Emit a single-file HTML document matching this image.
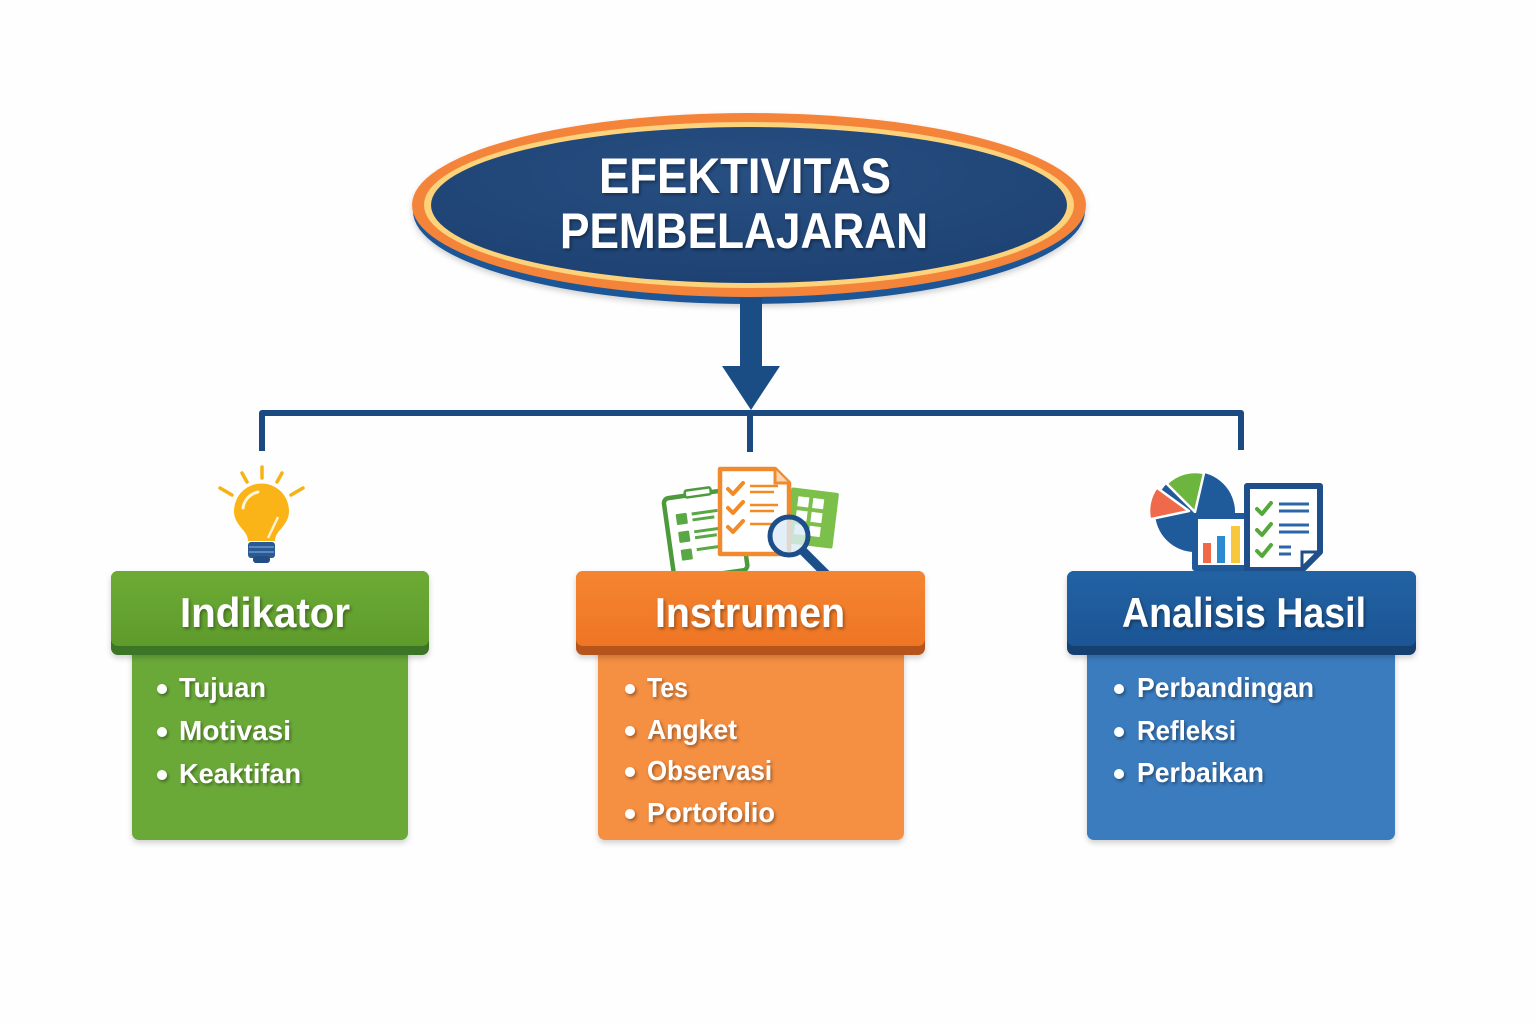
<!DOCTYPE html>
<html><head><meta charset="utf-8"><style>
html,body{margin:0;padding:0;background:#fefefe;}
svg{display:block;}
text{font-family:"Liberation Sans",Arial,sans-serif;font-weight:bold;fill:#fff;}
</style></head><body>
<svg width="1536" height="1024" viewBox="0 0 1536 1024" xmlns="http://www.w3.org/2000/svg">
<defs>
<filter id="ts" x="-10%" y="-30%" width="120%" height="160%"><feDropShadow dx="1.5" dy="2" stdDeviation="1.6" flood-color="#000" flood-opacity="0.38"/></filter>
<filter id="sh" x="-10%" y="-10%" width="120%" height="130%"><feDropShadow dx="0" dy="3" stdDeviation="3" flood-color="#000" flood-opacity="0.18"/></filter>
<radialGradient id="navy" cx="50%" cy="30%" r="70%"><stop offset="0" stop-color="#284f82"/><stop offset="1" stop-color="#1d4273"/></radialGradient>
<linearGradient id="gH" x1="0" y1="0" x2="0" y2="1"><stop offset="0" stop-color="#6dab35"/><stop offset="1" stop-color="#5e9b2c"/></linearGradient>
<linearGradient id="oH" x1="0" y1="0" x2="0" y2="1"><stop offset="0" stop-color="#f58530"/><stop offset="1" stop-color="#ee7524"/></linearGradient>
<linearGradient id="bH" x1="0" y1="0" x2="0" y2="1"><stop offset="0" stop-color="#2262a3"/><stop offset="1" stop-color="#1b5595"/></linearGradient>
</defs>

<!-- Central ellipse -->
<g filter="url(#sh)">
<ellipse cx="749" cy="211" rx="336" ry="93" fill="#1f5797"/>
<ellipse cx="749" cy="205" rx="337" ry="92" fill="#f5843a"/>
</g>
<ellipse cx="749" cy="205" rx="325" ry="83" fill="#fcd27a"/>
<ellipse cx="749" cy="205" rx="318" ry="78" fill="url(#navy)"/>
<text x="745" y="193" font-size="50" text-anchor="middle" textLength="292" lengthAdjust="spacingAndGlyphs" filter="url(#ts)">EFEKTIVITAS</text>
<text x="744" y="248" font-size="50" text-anchor="middle" textLength="368" lengthAdjust="spacingAndGlyphs" filter="url(#ts)">PEMBELAJARAN</text>

<!-- Arrow -->
<rect x="740" y="298" width="22" height="70" fill="#1a4d84"/>
<polygon points="722,366 780,366 751,410" fill="#1a4d84"/>

<!-- Connector lines -->
<path d="M262,451 L262,413 L1241,413 L1241,450" fill="none" stroke="#1b4a80" stroke-width="6" stroke-linejoin="round"/>
<line x1="750" y1="410" x2="750" y2="452" stroke="#1b4a80" stroke-width="6"/>

<!-- Lightbulb -->
<g stroke="#f5b316" stroke-width="3.5" stroke-linecap="round">
<line x1="262" y1="467" x2="262" y2="478"/>
<line x1="242" y1="473" x2="247" y2="482"/>
<line x1="282" y1="473" x2="277" y2="482"/>
<line x1="220" y1="488" x2="232" y2="495"/>
<line x1="303" y1="488" x2="291" y2="495"/>
</g>
<path d="M248,541 C248,530 234,526 234,511 A27.5,27.5 0 1 1 289,511 C289,526 275,530 275,541 Z" fill="#fbb417"/>
<path d="M243,508 A19,19 0 0 1 258,492" fill="none" stroke="#fff" stroke-width="3" stroke-linecap="round" opacity="0.85"/>
<line x1="278" y1="517" x2="268" y2="538" stroke="#fff" stroke-width="2.5" opacity="0.8"/>
<rect x="248" y="542" width="27" height="16" rx="3" fill="#2a5a96"/>
<line x1="249" y1="547" x2="274" y2="547" stroke="#6e96c6" stroke-width="1.5"/>
<line x1="249" y1="552" x2="274" y2="552" stroke="#6e96c6" stroke-width="1.5"/>
<rect x="253" y="556" width="17" height="7" rx="3" fill="#234e85"/>

<!-- Instrumen icon -->
<g transform="rotate(7 812 517)">
<rect x="788" y="490" width="48" height="56" rx="2" fill="#7cc04b"/>
<g fill="#fff"><rect x="796" y="498" width="11" height="10"/><rect x="811" y="498" width="11" height="10"/><rect x="796" y="512" width="11" height="10"/><rect x="811" y="512" width="11" height="10"/><rect x="796" y="526" width="11" height="10"/><rect x="811" y="526" width="11" height="10"/></g>
</g>
<g transform="rotate(-8 700 530)">
<rect x="668" y="494" width="74" height="82" rx="5" fill="#fff" stroke="#4c9a3c" stroke-width="4.5"/>
<rect x="690" y="489" width="26" height="7" rx="2" fill="#fff" stroke="#4c9a3c" stroke-width="2.5"/>
<g fill="#5aa845"><rect x="678" y="511" width="11" height="11" rx="1"/><rect x="678" y="529" width="11" height="11" rx="1"/><rect x="678" y="547" width="11" height="11" rx="1"/></g>
<g stroke="#5aa845" stroke-width="3"><line x1="694" y1="513" x2="720" y2="513"/><line x1="694" y1="519" x2="716" y2="519"/><line x1="694" y1="531" x2="720" y2="531"/><line x1="694" y1="537" x2="716" y2="537"/><line x1="694" y1="549" x2="720" y2="549"/></g>
</g>
<path d="M720,469 L775,469 L789,483 L789,554 L720,554 Z" fill="#fff" stroke="#f08a2f" stroke-width="4.5" stroke-linejoin="round"/>
<path d="M775,469 L775,483 L789,483" fill="#fbd4b0" stroke="#f08a2f" stroke-width="3"/>
<g fill="none" stroke="#f28a26" stroke-width="4" stroke-linecap="round" stroke-linejoin="round">
<polyline points="728,489 733,494 743,483"/><polyline points="728,508 733,513 743,502"/><polyline points="728,527 733,532 743,521"/>
</g>
<g stroke="#f28a26" stroke-width="2.5"><line x1="750" y1="486" x2="778" y2="486"/><line x1="750" y1="492" x2="774" y2="492"/><line x1="750" y1="505" x2="778" y2="505"/><line x1="750" y1="511" x2="774" y2="511"/><line x1="750" y1="524" x2="772" y2="524"/></g>
<line x1="803" y1="551" x2="826" y2="574" stroke="#1c4f8a" stroke-width="9" stroke-linecap="round"/>
<circle cx="789" cy="536" r="19" fill="#dcebf6" fill-opacity="0.8" stroke="#1c4f8a" stroke-width="5"/>

<!-- Analisis icon -->
<circle cx="1195" cy="512" r="40" fill="#1f5a9a"/>
<path d="M1195,512 L1166.7,483.7 A40,40 0 0 1 1204,473 Z" fill="#6cb53f" stroke="#fff" stroke-width="2.5" stroke-linejoin="round"/>
<path d="M1189,511 L1149.9,519.3 A40,40 0 0 1 1156.6,487.5 Z" fill="#ee6a4a" stroke="#fff" stroke-width="2.5" stroke-linejoin="round"/>
<rect x="1192" y="513" width="58" height="58" rx="3" fill="#1f5a9a"/>
<rect x="1198" y="519" width="46" height="46" fill="#fff"/>
<rect x="1203" y="543" width="8" height="20" fill="#f06a4a"/>
<rect x="1217" y="536" width="8" height="27" fill="#2b8ad0"/>
<rect x="1231" y="526" width="9" height="37" fill="#f7c83c"/>
<rect x="1186" y="573" width="100" height="7" rx="3" fill="#9db7d4"/>
<path d="M1247,486 L1320,486 L1320,552 L1302,570 L1247,570 Z" fill="#fff" stroke="#1f4f8a" stroke-width="6" stroke-linejoin="round"/>
<path d="M1320,552 L1302,552 L1302,570" fill="none" stroke="#1f4f8a" stroke-width="3"/>
<g fill="none" stroke="#55a83a" stroke-width="4" stroke-linecap="round" stroke-linejoin="round">
<polyline points="1257,509 1262,514 1271,503"/><polyline points="1257,530 1262,535 1271,524"/><polyline points="1257,551 1262,556 1271,545"/>
</g>
<g stroke="#2b67a8" stroke-width="3"><line x1="1279" y1="504" x2="1309" y2="504"/><line x1="1279" y1="511" x2="1309" y2="511"/><line x1="1279" y1="525" x2="1309" y2="525"/><line x1="1279" y1="532" x2="1309" y2="532"/><line x1="1279" y1="547" x2="1291" y2="547"/><line x1="1279" y1="554" x2="1291" y2="554"/></g>

<!-- Green box -->
<rect x="132" y="640" width="276" height="200" rx="7" fill="#6aa937" filter="url(#sh)"/>
<g filter="url(#sh)"><rect x="111" y="571" width="318" height="84" rx="7" fill="#3e7525"/></g>
<rect x="111" y="571" width="318" height="75" rx="7" fill="url(#gH)"/>
<text x="265" y="627" font-size="42" text-anchor="middle" textLength="170" lengthAdjust="spacingAndGlyphs" filter="url(#ts)">Indikator</text>
<g filter="url(#ts)">
<circle cx="162" cy="689" r="5" fill="#fff"/><circle cx="162" cy="732" r="5" fill="#fff"/><circle cx="162" cy="775" r="5" fill="#fff"/>
<text x="179" y="697" font-size="28" textLength="87" lengthAdjust="spacingAndGlyphs">Tujuan</text>
<text x="179" y="740" font-size="28" textLength="112" lengthAdjust="spacingAndGlyphs">Motivasi</text>
<text x="179" y="783" font-size="28" textLength="122" lengthAdjust="spacingAndGlyphs">Keaktifan</text>
</g>

<!-- Orange box -->
<rect x="598" y="640" width="306" height="200" rx="7" fill="#f58f42" filter="url(#sh)"/>
<g filter="url(#sh)"><rect x="576" y="571" width="349" height="84" rx="7" fill="#b5541d"/></g>
<rect x="576" y="571" width="349" height="75" rx="7" fill="url(#oH)"/>
<text x="750" y="627" font-size="42" text-anchor="middle" textLength="190" lengthAdjust="spacingAndGlyphs" filter="url(#ts)">Instrumen</text>
<g filter="url(#ts)">
<circle cx="630" cy="689" r="5" fill="#fff"/><circle cx="630" cy="731" r="5" fill="#fff"/><circle cx="630" cy="772" r="5" fill="#fff"/><circle cx="630" cy="814" r="5" fill="#fff"/>
<text x="647" y="697" font-size="28" textLength="41" lengthAdjust="spacingAndGlyphs">Tes</text>
<text x="647" y="739" font-size="28" textLength="90" lengthAdjust="spacingAndGlyphs">Angket</text>
<text x="647" y="780" font-size="28" textLength="125" lengthAdjust="spacingAndGlyphs">Observasi</text>
<text x="647" y="822" font-size="28" textLength="128" lengthAdjust="spacingAndGlyphs">Portofolio</text>
</g>

<!-- Blue box -->
<rect x="1087" y="640" width="308" height="200" rx="7" fill="#3a7cbf" filter="url(#sh)"/>
<g filter="url(#sh)"><rect x="1067" y="571" width="349" height="84" rx="7" fill="#143f70"/></g>
<rect x="1067" y="571" width="349" height="75" rx="7" fill="url(#bH)"/>
<text x="1244" y="627" font-size="42" text-anchor="middle" textLength="244" lengthAdjust="spacingAndGlyphs" filter="url(#ts)">Analisis Hasil</text>
<g filter="url(#ts)">
<circle cx="1119" cy="689" r="5" fill="#fff"/><circle cx="1119" cy="732" r="5" fill="#fff"/><circle cx="1119" cy="774" r="5" fill="#fff"/>
<text x="1137" y="697" font-size="28" textLength="177" lengthAdjust="spacingAndGlyphs">Perbandingan</text>
<text x="1137" y="740" font-size="28" textLength="99" lengthAdjust="spacingAndGlyphs">Refleksi</text>
<text x="1137" y="782" font-size="28" textLength="127" lengthAdjust="spacingAndGlyphs">Perbaikan</text>
</g>
</svg>
</body></html>
